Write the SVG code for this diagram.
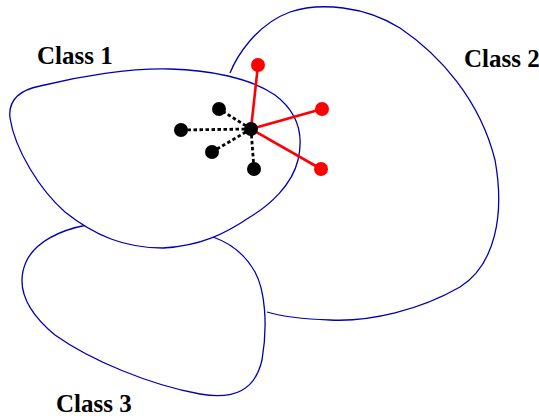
<svg xmlns="http://www.w3.org/2000/svg" width="539" height="416" viewBox="0 0 539 416">
<style>
.blob{fill:#fff;stroke:#0000b4;stroke-width:1.3}
.lbl{font-family:"Liberation Serif",serif;font-weight:bold;font-size:25px;fill:#000}
.dash{stroke:#000;stroke-width:2.8;stroke-dasharray:3.5 2.5;fill:none}
.red{stroke:#f00;stroke-width:2.6;fill:none}
</style>
<rect width="539" height="416" fill="#fff"/>
<g id="class2">
<path class="blob" d="M230,73 C236,58 255,25 290,12 C320,2 365,6 400,28 C440,55 480,100 495,160 C505,215 495,265 460,287 C420,310 370,322 330,320 C300,319 280,316 267,312"/>
</g>
<g id="class3">
<path class="blob" d="M87,225 C60,230 35,242 26,262 C16,285 25,310 55,335 C90,360 150,385 200,394 C235,400 255,390 262,360 C268,325 265,290 255,272 C245,254 230,243 213,237"/>
</g>
<g id="class1">
<path class="blob" d="M10,118 C8,100 20,90 40,86 C80,76 130,68 170,69 C210,70 250,78 275,95 C295,110 305,130 298,160 C292,185 270,205 250,217 C225,234 200,246 163,248 C125,248 95,236 65,212 C40,190 15,150 10,118 Z"/>
</g>
<g id="connectors">
<line class="dash" x1="251" y1="129" x2="181" y2="130"/>
<line class="dash" x1="251" y1="129" x2="219" y2="109"/>
<line class="dash" x1="251" y1="129" x2="212" y2="152"/>
<line class="dash" x1="251" y1="129" x2="254" y2="169"/>
<line class="red" x1="251" y1="129" x2="258" y2="65"/>
<line class="red" x1="251" y1="129" x2="322" y2="109"/>
<line class="red" x1="251" y1="129" x2="321" y2="169"/>
</g>
<g id="points">
<circle cx="251" cy="129" r="7" fill="#000"/>
<circle cx="181" cy="130" r="7" fill="#000"/>
<circle cx="219" cy="109" r="7" fill="#000"/>
<circle cx="212" cy="152" r="7" fill="#000"/>
<circle cx="254" cy="169" r="7" fill="#000"/>
<circle cx="258" cy="65" r="7" fill="#f00"/>
<circle cx="322" cy="109" r="7" fill="#f00"/>
<circle cx="321" cy="169" r="7" fill="#f00"/>
</g>
<g id="labels">
<text class="lbl" x="37" y="64">Class 1</text>
<text class="lbl" x="464" y="67">Class 2</text>
<text class="lbl" x="56" y="412">Class 3</text>
</g>
</svg>
